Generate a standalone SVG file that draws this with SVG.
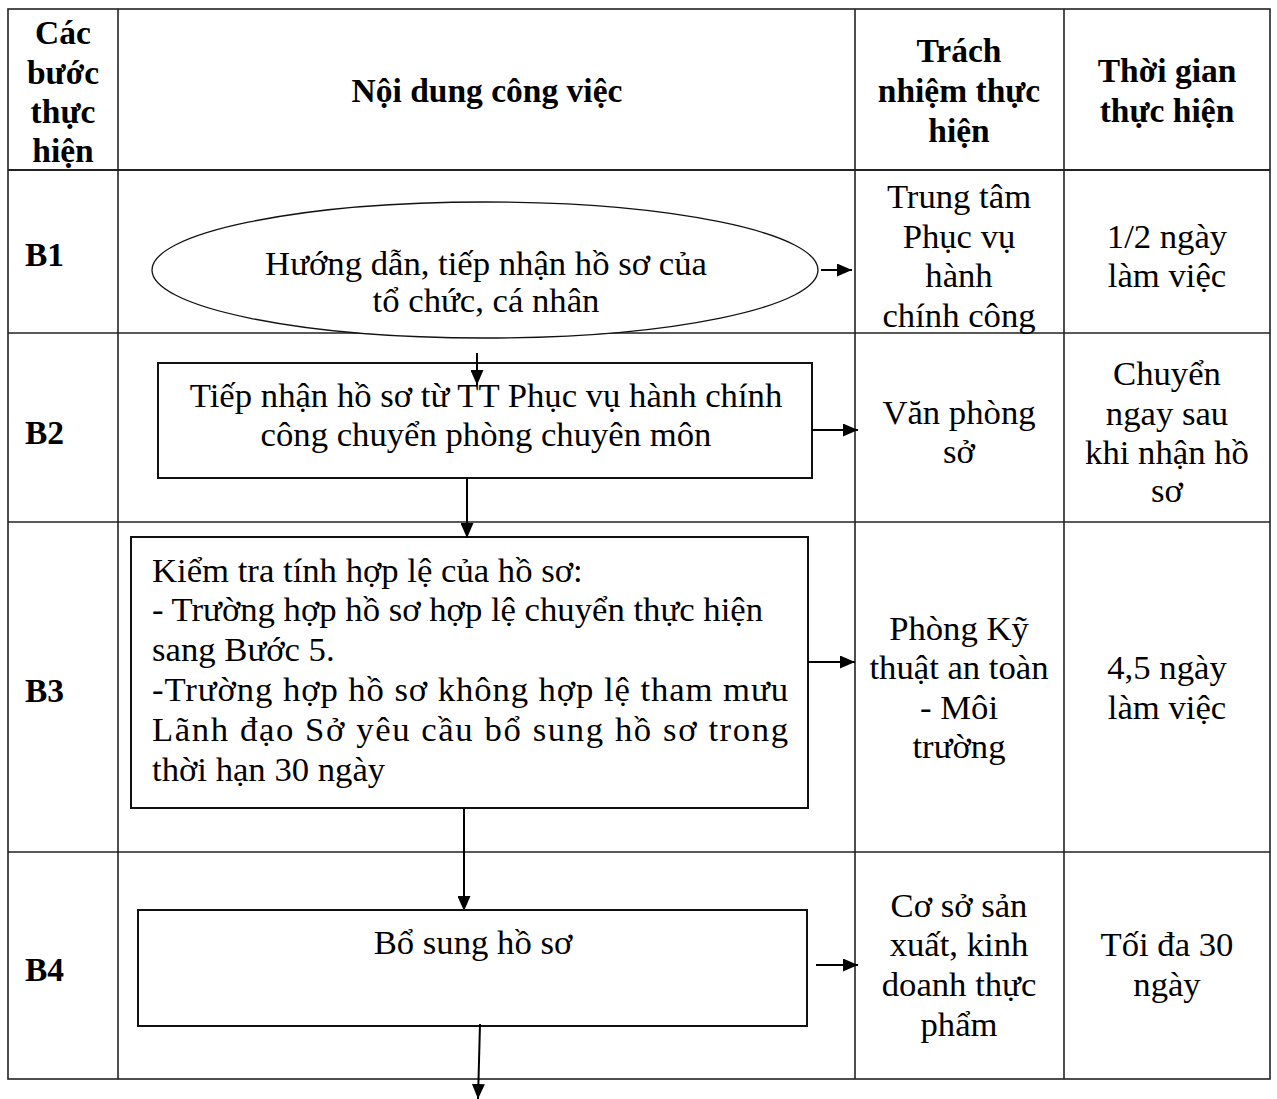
<svg xmlns="http://www.w3.org/2000/svg" width="1277" height="1099" viewBox="0 0 1277 1099">
<style>
.grid{stroke:#222;stroke-width:1.6;fill:none}
.box{stroke:#111;stroke-width:2;fill:#fff}
.h{font-family:"Liberation Serif","Times New Roman",serif;font-weight:bold;font-size:33.5px;fill:#000}
.t{font-family:"Liberation Serif","Times New Roman",serif;font-size:34.7px;fill:#000}
.c{text-anchor:middle}
.conn line{stroke:#000;stroke-width:2;marker-end:url(#ah)}
</style>
<defs>
<marker id="ah" viewBox="0 0 15 13" refX="15" refY="6.5" markerWidth="15" markerHeight="13" markerUnits="userSpaceOnUse" orient="auto">
<path d="M0,0 L15,6.5 L0,13 z" fill="#000"/>
</marker>
</defs>
<rect width="1277" height="1099" fill="#fff"/>
<g id="table">
<rect class="grid" x="8" y="9" width="1262" height="1070"/>
<line class="grid" x1="118" y1="9" x2="118" y2="1079"/>
<line class="grid" x1="855" y1="9" x2="855" y2="1079"/>
<line class="grid" x1="1064" y1="9" x2="1064" y2="1079"/>
<line class="grid" x1="8" y1="170" x2="1270" y2="170" style="stroke-width:2.2"/>
<line class="grid" x1="8" y1="333" x2="1270" y2="333"/>
<line class="grid" x1="8" y1="522" x2="1270" y2="522"/>
<line class="grid" x1="8" y1="852" x2="1270" y2="852"/>
</g>
<g id="header">
<text class="h c" x="63" y="44">Các</text>
<text class="h c" x="63" y="84">bước</text>
<text class="h c" x="63" y="123">thực</text>
<text class="h c" x="63" y="162">hiện</text>
<text class="h c" x="487" y="102">Nội dung công việc</text>
<text class="h c" x="959" y="62">Trách</text>
<text class="h c" x="959" y="102">nhiệm thực</text>
<text class="h c" x="959" y="142">hiện</text>
<text class="h c" x="1167" y="82">Thời gian</text>
<text class="h c" x="1167" y="122">thực hiện</text>
</g>
<g id="steps">
<text class="h" x="25" y="266">B1</text>
<text class="h" x="25" y="444">B2</text>
<text class="h" x="25" y="702">B3</text>
<text class="h" x="25" y="981">B4</text>
</g>
<g id="node-b1">
<ellipse class="box" cx="485" cy="270" rx="333" ry="68" style="stroke-width:1.3"/>
<text class="t c" x="486" y="275">Hướng dẫn, tiếp nhận hồ sơ của</text>
<text class="t c" x="486" y="312">tổ chức, cá nhân</text>
</g>
<g id="node-b2">
<rect class="box" x="158" y="363" width="654" height="115"/>
<text class="t c" x="486" y="407">Tiếp nhận hồ sơ từ TT Phục vụ hành chính</text>
<text class="t c" x="486" y="446">công chuyển phòng chuyên môn</text>
</g>
<g id="node-b3">
<rect class="box" x="131" y="537" width="677" height="271"/>
<text class="t" x="152" y="582">Kiểm tra tính hợp lệ của hồ sơ:</text>
<text class="t" x="152" y="621">- Trường hợp hồ sơ hợp lệ chuyển thực hiện</text>
<text class="t" x="152" y="661">sang Bước 5.</text>
<text class="t" x="152" y="701" textLength="636" lengthAdjust="spacing">-Trường hợp hồ sơ không hợp lệ tham mưu</text>
<text class="t" x="152" y="741" textLength="636" lengthAdjust="spacing">Lãnh đạo Sở yêu cầu bổ sung hồ sơ trong</text>
<text class="t" x="152" y="781">thời hạn 30 ngày</text>
</g>
<g id="node-b4">
<rect class="box" x="138" y="910" width="669" height="116"/>
<text class="t c" x="473" y="954">Bổ sung hồ sơ</text>
</g>
<g id="resp">
<text class="t c" x="959" y="208">Trung tâm</text>
<text class="t c" x="959" y="248">Phục vụ</text>
<text class="t c" x="959" y="287">hành</text>
<text class="t c" x="959" y="327">chính công</text>
<text class="t c" x="959" y="424">Văn phòng</text>
<text class="t c" x="959" y="463">sở</text>
<text class="t c" x="959" y="640">Phòng Kỹ</text>
<text class="t c" x="959" y="679">thuật an toàn</text>
<text class="t c" x="959" y="719">- Môi</text>
<text class="t c" x="959" y="758">trường</text>
<text class="t c" x="959" y="917">Cơ sở sản</text>
<text class="t c" x="959" y="956">xuất, kinh</text>
<text class="t c" x="959" y="996">doanh thực</text>
<text class="t c" x="959" y="1036">phẩm</text>
</g>
<g id="time">
<text class="t c" x="1167" y="248">1/2 ngày</text>
<text class="t c" x="1167" y="287">làm việc</text>
<text class="t c" x="1167" y="385">Chuyển</text>
<text class="t c" x="1167" y="425">ngay sau</text>
<text class="t c" x="1167" y="464">khi nhận hồ</text>
<text class="t c" x="1167" y="502">sơ</text>
<text class="t c" x="1167" y="679">4,5 ngày</text>
<text class="t c" x="1167" y="719">làm việc</text>
<text class="t c" x="1167" y="956">Tối đa 30</text>
<text class="t c" x="1167" y="996">ngày</text>
</g>
<g id="connectors" class="conn">
<line x1="821" y1="270" x2="852" y2="270"/>
<line x1="477" y1="353" x2="477" y2="385"/>
<line x1="812" y1="430" x2="858" y2="430"/>
<line x1="467" y1="478" x2="467" y2="538"/>
<line x1="808" y1="662" x2="855" y2="662"/>
<line x1="464" y1="808" x2="464" y2="911"/>
<line x1="816" y1="965" x2="858" y2="965"/>
<line x1="480" y1="1024" x2="478" y2="1099"/>
</g>
</svg>
